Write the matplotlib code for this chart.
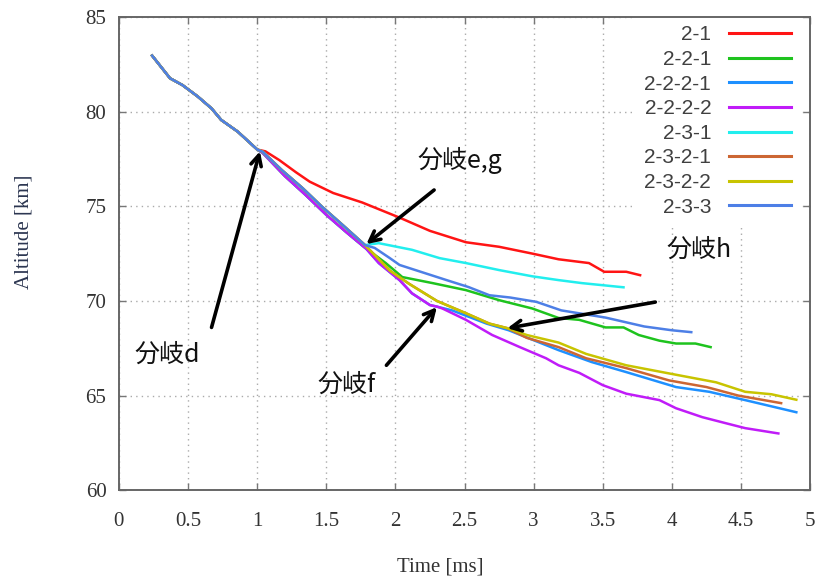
import matplotlib
matplotlib.use('Agg')
import matplotlib.pyplot as plt

# shared trunk up to branch d
trunk_t   = [0.24, 0.37, 0.46, 0.57, 0.67, 0.74, 0.86, 1.0]
trunk_alt = [82.96, 81.76, 81.4, 80.8, 80.17, 79.56, 78.94, 78.0]

# 2-1 after branch d
r21_t   = [1.06, 1.16, 1.28, 1.38, 1.55, 1.76, 2.03, 2.25, 2.51, 2.75, 2.99, 3.18, 3.40, 3.51, 3.67, 3.77]
r21_alt = [77.9, 77.44, 76.8, 76.3, 75.7, 75.2, 74.4, 73.7, 73.1, 72.86, 72.5, 72.2, 72.0, 71.54, 71.54, 71.36]

# 2-2 trunk (d -> e,g) and 2-2-2 trunk (e,g -> f)
b22_t   = [1.04, 1.2, 1.35, 1.5, 1.65, 1.79]
b22_alt = [77.82, 76.6, 75.6, 74.55, 73.6, 72.75]
b222_t   = [1.88, 2.03, 2.12, 2.25, 2.3]
b222_alt = [72.0, 71.1, 70.4, 69.78, 69.7]

# 2-3 trunk (d -> e,g) and 2-3-2 trunk (e,g -> h)
b23_t   = [1.04, 1.18, 1.33, 1.47, 1.62, 1.78]
b23_alt = [77.88, 76.9, 75.95, 74.97, 74.0, 72.95]
b232_t   = [1.96, 2.1, 2.3, 2.51, 2.68, 2.81]
b232_alt = [71.6, 70.9, 70.0, 69.35, 68.8, 68.56]

# leaves
g221_t   = [1.82, 1.93, 2.05, 2.27, 2.51, 2.75, 2.99, 3.18, 3.33, 3.52, 3.65, 3.76, 3.91, 4.03, 4.17, 4.28]
g221_alt = [72.6, 72.0, 71.26, 70.94, 70.57, 70.04, 69.6, 69.1, 69.0, 68.6, 68.6, 68.2, 67.9, 67.75, 67.75, 67.56]

l2221_t   = [2.41, 2.66, 2.82, 3.18, 3.42, 3.67, 4.03, 4.27, 4.53, 4.9]
l2221_alt = [69.5, 68.8, 68.45, 67.4, 66.77, 66.24, 65.45, 65.2, 64.76, 64.12]

p2222_t   = [2.34, 2.51, 2.70, 2.90, 3.09, 3.18, 3.33, 3.50, 3.67, 3.91, 4.03, 4.22, 4.39, 4.53, 4.77]
p2222_alt = [69.6, 69.0, 68.2, 67.56, 66.97, 66.6, 66.2, 65.55, 65.1, 64.76, 64.33, 63.86, 63.54, 63.28, 63.0]

c231_t   = [1.88, 2.12, 2.32, 2.51, 2.75, 2.99, 3.18, 3.35, 3.50, 3.65]
c231_alt = [73.05, 72.7, 72.26, 72.0, 71.63, 71.3, 71.1, 70.94, 70.83, 70.72]

o2321_t   = [2.95, 3.18, 3.38, 3.67, 3.98, 4.25, 4.48, 4.79]
o2321_alt = [68.05, 67.56, 66.97, 66.45, 65.8, 65.45, 65.0, 64.6]

y2322_t   = [2.95, 3.18, 3.38, 3.67, 4.03, 4.32, 4.53, 4.72, 4.9]
y2322_alt = [68.2, 67.8, 67.2, 66.6, 66.1, 65.7, 65.2, 65.07, 64.78]

b233_t   = [1.85, 1.96, 2.03, 2.2, 2.37, 2.53, 2.68, 2.83, 3.02, 3.2, 3.52, 3.8, 4.0, 4.14]
b233_alt = [72.8, 72.26, 71.9, 71.5, 71.1, 70.73, 70.3, 70.18, 69.95, 69.5, 69.12, 68.65, 68.45, 68.35]

labels = ['2-1', '2-2-1', '2-2-2-1', '2-2-2-2', '2-3-1', '2-3-2-1', '2-3-2-2', '2-3-3']
colors = ['#ff1414', '#1ec31e', '#1e90ff', '#c01cf8', '#22eeee', '#cc6633', '#c8c400', '#4d7fe6']

series = [
    (trunk_t + r21_t, trunk_alt + r21_alt),
    (trunk_t + b22_t + g221_t, trunk_alt + b22_alt + g221_alt),
    (trunk_t + b22_t + b222_t + l2221_t, trunk_alt + b22_alt + b222_alt + l2221_alt),
    (trunk_t + b22_t + b222_t + p2222_t, trunk_alt + b22_alt + b222_alt + p2222_alt),
    (trunk_t + b23_t + c231_t, trunk_alt + b23_alt + c231_alt),
    (trunk_t + b23_t + b232_t + o2321_t, trunk_alt + b23_alt + b232_alt + o2321_alt),
    (trunk_t + b23_t + b232_t + y2322_t, trunk_alt + b23_alt + b232_alt + y2322_alt),
    (trunk_t + b23_t + b233_t, trunk_alt + b23_alt + b233_alt),
]

# branch annotations: label, text position, arrow tail, arrow head
notes = [
    ('分岐d',   (0.116, 67.14), (0.67, 68.6), (1.02, 77.9)),
    ('分岐e,g', (2.16, 77.44), (2.28, 75.86), (1.79, 73.0)),
    ('分岐f',   (1.437, 65.55), (1.935, 66.6), (2.3, 69.67)),
    ('分岐h',   (3.96, 72.68), (3.88, 69.94), (2.81, 68.56)),
]

serif = ['Liberation Serif', 'DejaVu Serif']
fig = plt.figure(figsize=(8.2, 5.85), dpi=100)
ax = fig.add_axes([0.145, 0.162, 0.843, 0.809])

for (t, a), lab, col in zip(series, labels, colors):
    ax.plot(t, a, color=col, lw=1.8, label=lab)

for txt, pos, tail, head in notes:
    ax.annotate('', xy=head, xytext=tail,
                arrowprops=dict(arrowstyle='->, head_length=0.75, head_width=0.38',
                                lw=2.6, color='black', shrinkA=0, shrinkB=0))
    ax.text(pos[0], pos[1], txt, fontsize=18, va='center', ha='left',
            family=['Noto Sans CJK JP', 'DejaVu Sans'], color='#111111')

ax.set_xlim(0, 5)
ax.set_ylim(60, 85)
ax.set_xticks([0, 0.5, 1, 1.5, 2, 2.5, 3, 3.5, 4, 4.5, 5])
ax.set_xticklabels(['0', '0.5', '1', '1.5', '2', '2.5', '3', '3.5', '4', '4.5', '5'])
ax.set_yticks([60, 65, 70, 75, 80, 85])
ax.grid(True, linestyle=(0, (1, 3)), color='#aaaaaa', lw=1.0)
ax.set_axisbelow(True)
ax.tick_params(direction='in', length=5, width=1, color='#777777',
               top=True, right=True, labelsize=15, labelcolor='#333333')
ax.tick_params(axis='x', pad=16)
ax.tick_params(axis='y', pad=9)
for lbl in ax.get_xticklabels() + ax.get_yticklabels():
    lbl.set_family(serif)
for sp in ax.spines.values():
    sp.set_color('#666666')
    sp.set_linewidth(1.4)

ax.set_xlabel('Time [ms]', fontsize=15, family=serif, color='#333333')
ax.set_ylabel('Altitude [km]', fontsize=15, family=serif, color='#2b3550')
ax.xaxis.set_label_coords(0.465, -0.142)
ax.yaxis.set_label_coords(-0.124, 0.545)

leg = ax.legend(loc='upper right', bbox_to_anchor=(0.985, 1.0), markerfirst=False,
                frameon=True, fancybox=False, framealpha=1, edgecolor='none',
                facecolor='white', borderaxespad=0, borderpad=0.4,
                labelspacing=0.27, handlelength=3.0, handletextpad=0.85,
                prop={'family': 'Liberation Sans', 'size': 15})
leg.set_zorder(2.4)  # keep the spines drawn over the white key box
for t in leg.get_texts():
    t.set_color('#404040')
for h in leg.get_lines():
    h.set_linewidth(2.2)

fig.savefig('out.png', dpi=100)
